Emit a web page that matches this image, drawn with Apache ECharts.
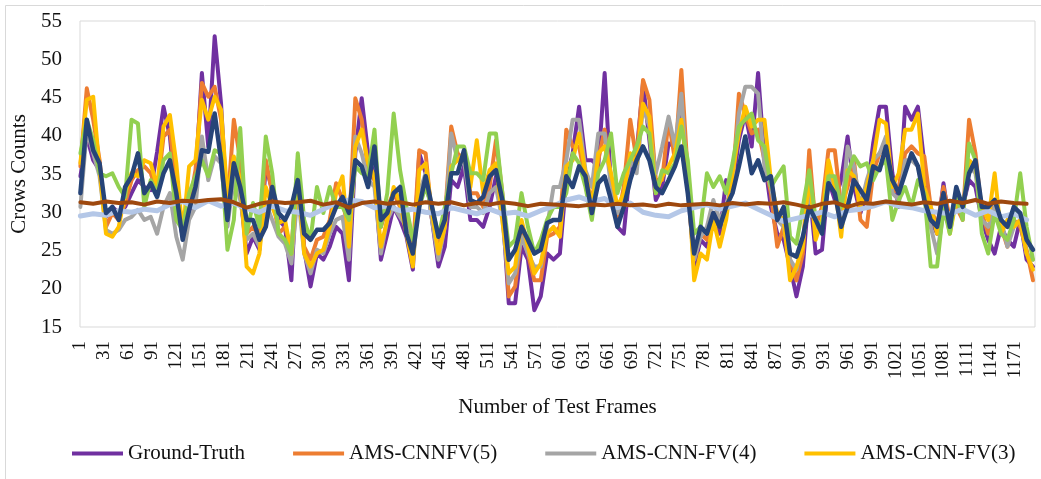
<!DOCTYPE html>
<html><head><meta charset="utf-8">
<script src="https://cdn.jsdelivr.net/npm/echarts@6/dist/echarts.min.js"></script>
<style>html,body{margin:0;padding:0;background:#fff;}#c{width:1041px;height:479px;}</style>
</head><body><div id="c"></div>
<script>
// ---- categories (frame numbers) ----
const FRAME_COUNT = 1195;
const categories = [];
for (let i = 1; i <= FRAME_COUNT; i++) categories.push(String(i));
const mainFrames = [];
for (let f = 1; f <= 1193; f += 8) mainFrames.push(f);
const flatFrames = [];
for (let f = 1; f <= 1185; f += 16) flatFrames.push(f);

const legendNames = ['Ground-Truth', 'AMS-CNNFV(5)', 'AMS-CNN-FV(4)', 'AMS-CNN-FV(3)'];

// ---- series values ----
const groundTruth = [34.7,39.9,36.8,35.5,29.4,30.7,29.9,30.7,32.5,34.2,33.3,32.9,37.9,43.8,39.9,31.2,26.8,29.9,34.2,48.2,38.6,53.0,44.2,29.4,34.2,32.5,24.6,26.8,25.1,36.0,32.9,29.0,28.1,21.1,36.8,25.1,20.3,24.6,
23.8,25.5,28.1,27.2,21.1,37.7,44.9,37.7,34.7,23.8,27.2,30.7,29.0,26.8,22.5,37.7,35.1,29.0,22.9,25.5,34.2,33.3,36.0,29.0,29.0,28.1,30.7,34.7,30.7,18.1,18.1,25.5,23.8,17.2,19.0,24.6,23.8,
24.6,34.2,37.7,43.8,36.8,36.8,36.0,48.2,33.3,28.1,27.2,36.0,37.7,46.9,39.4,31.6,33.3,39.0,38.6,43.8,33.3,22.9,26.4,25.5,29.0,27.2,34.2,33.3,39.4,42.9,38.6,48.2,36.8,30.7,27.2,26.4,22.9,19.0,
22.9,33.3,24.6,25.1,34.2,31.6,34.2,39.9,33.3,29.9,32.5,39.0,43.8,43.8,35.1,30.7,43.8,42.1,43.8,36.4,29.0,27.2,33.8,28.1,31.6,30.7,34.2,33.3,29.0,26.4,24.6,28.1,26.4,25.5,29.0,23.8,22.9];

const cnnfv5 = [36.0,46.2,42.1,36.8,28.1,29.9,29.0,31.2,34.2,35.5,36.0,35.1,32.5,39.9,40.8,33.3,28.1,30.7,35.5,46.9,45.1,46.4,42.1,30.7,42.1,36.8,27.2,28.1,26.8,36.8,32.5,27.2,28.1,25.1,36.0,25.5,23.8,26.4,
26.8,29.0,33.8,31.6,27.2,44.9,42.1,35.5,34.2,28.1,30.7,32.5,30.7,29.0,24.6,38.1,37.7,29.0,25.5,29.0,41.2,37.7,36.8,32.5,32.5,30.7,33.3,39.4,32.5,19.0,20.3,27.2,24.6,21.1,21.1,26.8,27.2,
28.1,40.8,38.6,38.6,34.2,31.6,36.8,40.8,34.2,29.0,33.3,42.1,36.8,47.3,44.7,34.2,34.2,42.1,36.8,48.6,35.1,23.8,27.2,26.4,29.9,28.1,30.7,33.3,45.5,42.9,40.3,40.8,36.8,32.5,25.5,28.1,23.8,21.1,
24.6,38.1,28.1,30.7,38.1,38.1,30.7,33.3,36.8,29.0,28.1,35.1,37.7,38.6,32.5,33.3,37.7,38.6,37.7,37.3,30.7,28.1,33.3,29.0,30.7,29.0,42.1,37.7,29.9,27.2,31.6,28.1,25.5,29.0,28.1,25.1,21.1];

const cnnfv4 = [30.7,40.8,37.7,34.7,27.7,27.2,27.7,29.0,29.4,30.3,29.0,29.4,27.2,30.7,32.5,26.8,23.8,29.0,30.7,39.9,34.2,37.3,36.4,28.1,34.7,31.6,26.4,27.2,25.5,31.2,29.0,26.8,25.9,23.3,32.5,24.6,22.0,25.1,
24.6,27.2,29.0,29.4,23.8,39.9,37.7,34.2,33.3,24.6,29.0,30.7,29.4,28.1,23.3,32.5,35.1,29.0,23.8,28.1,40.3,36.8,36.8,30.7,30.7,29.9,32.5,33.3,29.0,20.7,22.0,26.8,24.6,22.9,22.9,28.1,33.3,
33.3,36.8,42.1,42.1,35.5,33.3,40.3,40.3,33.3,29.9,31.6,36.8,35.1,43.8,41.2,35.1,38.6,42.5,38.6,45.5,33.3,23.8,26.8,28.1,31.6,29.0,30.7,34.2,42.9,46.4,46.4,45.5,36.0,33.3,29.0,28.1,23.8,22.5,
26.4,32.5,28.1,28.1,35.1,33.3,29.0,38.6,36.0,30.7,34.2,36.8,37.7,39.9,32.5,31.6,36.8,36.8,36.0,32.5,28.1,24.6,29.9,28.1,31.6,29.9,36.0,35.1,29.0,28.1,30.7,29.0,25.5,28.1,29.0,24.6,23.8];

const cnnfv3 = [36.4,44.7,45.1,35.5,27.2,26.8,28.1,32.5,35.1,34.7,36.8,36.4,33.3,41.2,42.7,36.4,27.2,36.0,36.8,44.7,42.1,45.1,43.4,32.0,37.3,34.2,22.9,22.0,24.6,33.3,30.7,28.6,29.0,24.6,35.1,24.6,22.9,24.6,
25.1,28.1,32.5,34.7,25.5,38.6,40.8,36.4,34.7,25.5,29.0,33.3,31.2,27.2,22.9,35.5,36.4,29.9,24.6,28.1,36.0,36.8,37.7,33.3,39.4,32.5,35.5,36.4,29.0,22.0,22.9,29.0,25.5,22.0,23.3,27.2,28.1,
26.8,36.0,36.8,40.3,35.1,30.7,37.7,38.6,35.1,30.7,32.5,37.7,36.4,44.2,42.5,32.5,34.7,36.0,37.7,42.1,35.1,21.1,24.6,23.8,29.0,25.5,29.0,35.1,40.3,43.8,41.2,42.1,42.1,34.2,29.9,29.0,21.1,22.9,
25.5,35.1,26.4,29.0,36.8,33.3,26.8,35.5,34.7,30.7,33.3,36.8,42.1,41.6,33.3,35.1,40.8,40.8,42.9,33.3,30.7,27.2,31.6,27.2,31.6,29.9,36.8,36.0,30.7,29.0,35.1,27.2,29.0,28.1,29.0,24.6,22.5];

const greenSeries = [37.7,42.1,39.4,35.1,34.7,35.1,33.3,32.0,42.1,41.6,30.7,34.2,32.5,36.8,37.7,29.0,27.7,32.5,34.7,36.8,34.7,38.1,37.7,25.1,29.0,41.0,27.2,31.2,28.1,39.9,35.1,27.2,26.4,24.6,37.7,29.0,26.4,33.3,
29.9,33.3,30.7,30.7,29.0,36.0,35.1,34.7,40.8,28.1,32.5,42.9,35.5,30.7,26.4,30.7,33.3,30.7,26.8,30.7,35.1,38.6,38.6,35.1,35.1,34.2,40.3,40.3,32.5,25.5,26.4,32.5,28.1,24.6,26.4,29.0,30.7,
30.7,32.5,37.7,36.4,33.3,29.0,35.1,36.8,40.3,32.5,35.1,36.8,38.6,41.2,40.3,32.5,35.5,35.1,36.4,41.2,36.8,27.2,28.1,35.1,33.3,34.7,32.5,36.4,41.2,42.1,42.9,39.4,38.6,33.3,34.7,36.0,26.8,25.9,
30.7,35.5,29.0,28.1,34.7,34.7,30.7,35.1,37.3,36.0,36.4,34.2,36.0,36.8,29.0,31.6,33.3,30.7,34.2,32.5,22.9,22.9,30.7,27.2,32.5,29.0,39.0,36.8,27.2,24.6,29.9,27.2,26.4,29.0,35.1,28.1,23.8];

const darkBlueSeries = [32.5,42.1,38.1,36.4,29.9,30.7,29.0,33.3,34.7,37.7,32.5,33.8,32.0,35.1,36.8,32.5,26.4,30.3,33.3,38.1,37.9,42.9,36.8,29.0,36.4,33.3,29.0,29.0,26.4,28.1,33.3,29.9,29.0,30.7,34.2,27.2,26.4,27.7,
27.7,28.6,30.7,32.0,29.9,36.8,36.0,33.3,38.6,29.0,29.9,32.5,33.3,27.2,24.6,30.7,34.7,30.7,26.8,29.0,35.1,35.1,38.1,31.6,31.2,32.0,34.7,35.5,31.6,23.8,25.1,28.1,26.4,24.6,25.1,28.6,29.0,
29.0,34.7,33.3,36.0,34.7,29.9,33.8,34.7,31.6,28.1,30.7,34.2,36.8,38.6,36.8,33.3,32.5,34.2,36.0,38.6,32.5,24.6,28.1,27.2,29.9,28.1,30.7,32.5,36.0,39.9,35.1,36.8,34.2,34.7,29.0,30.7,24.6,24.2,
26.8,30.7,29.0,27.2,33.8,32.5,28.1,30.7,34.2,32.9,31.6,36.0,35.5,38.6,34.2,32.5,35.1,37.7,36.0,31.6,29.0,28.1,32.5,28.1,33.3,30.7,35.1,36.8,30.7,30.7,31.6,29.0,28.1,30.7,29.9,26.4,25.1];

const lightBlueSeries = [29.5,29.8,29.6,30.2,30.0,30.4,30.2,31.0,31.4,30.6,31.5,30.8,31.2,30.5,30.0,30.8,30.2,30.0,29.6,30.4,
31.2,31.6,31.4,30.6,30.8,30.2,30.4,30.0,29.8,30.6,30.2,29.8,30.4,29.8,30.0,29.5,30.2,30.8,31.6,32.0,
31.4,31.8,30.6,31.2,30.0,29.6,29.4,30.2,30.6,31.0,30.4,30.8,31.2,30.4,29.6,28.8,29.2,29.6,30.0,29.4,
30.2,30.4,30.8,31.4,30.8,30.6,30.2,30.0,29.8,30.4,29.6,30.2,29.4,29.8,29.0];

const brownSeries = [31.3,31.1,31.4,31.2,31.3,31.0,31.4,31.2,31.5,31.4,31.6,31.7,31.3,30.6,31.1,31.4,31.2,31.3,31.5,31.0,
31.3,30.6,31.2,31.4,31.1,31.3,31.0,31.3,31.1,31.3,30.9,31.2,31.0,31.3,31.1,30.8,31.1,31.0,30.9,30.8,
31.0,30.9,31.1,30.9,31.0,30.8,31.1,30.9,31.0,31.1,30.9,31.2,31.0,31.2,31.1,31.3,31.0,30.6,31.1,31.3,
30.7,31.2,31.1,31.4,31.2,31.0,31.3,31.1,31.5,31.2,31.6,31.1,31.4,31.2,31.1];

const yTicks = {min: 15, max: 55, step: 5};

function pairs(frames, vals) {
  const out = [];
  const n = Math.min(frames.length, vals.length);
  for (let i = 0; i < n; i++) out.push([frames[i] - 1, vals[i]]);
  return out;
}
function line(name, frames, vals, color, width) {
  return {
    name: name, type: 'line', data: pairs(frames, vals),
    symbol: 'none', showSymbol: false, smooth: false,
    lineStyle: {color: color, width: width, cap: 'round', join: 'round'},
    itemStyle: {color: color},
    emphasis: {disabled: true}, animation: false
  };
}
const FONT = '"Liberation Serif", "Times New Roman", serif';
const chart = echarts.init(document.getElementById('c'), null, {renderer: 'canvas'});
chart.setOption({
  backgroundColor: '#fff',
  animation: false,
  graphic: [{type: 'rect', silent: true, z: -10,
    shape: {x: 5.5, y: 5.5, width: 1060, height: 500},
    style: {fill: null, stroke: '#d9d9d9', lineWidth: 1}}],
  grid: {left: 80, right: 6, top: 21, bottom: 152, show: true, borderColor: '#d9d9d9', borderWidth: 1},
  legend: {
    data: legendNames, left: 67, top: 438, icon: 'rect', itemWidth: 51, itemHeight: 4, itemGap: 48,
    textStyle: {fontFamily: FONT, fontSize: 21, color: '#111'}
  },
  xAxis: {
    type: 'category', data: categories, boundaryGap: true,
    axisLine: {show: false}, axisTick: {show: false}, splitLine: {show: false},
    axisLabel: {interval: 29, rotate: 90, fontFamily: FONT, fontSize: 19, color: '#111', margin: 14},
    name: 'Number of Test Frames', nameLocation: 'middle', nameGap: 70,
    nameTextStyle: {fontFamily: FONT, fontSize: 21, color: '#111'}
  },
  yAxis: {
    type: 'value', min: yTicks.min, max: yTicks.max, interval: yTicks.step,
    axisLine: {show: false}, axisTick: {show: false}, splitLine: {show: false},
    axisLabel: {fontFamily: FONT, fontSize: 21, color: '#111', margin: 18},
    name: 'Crows Counts', nameLocation: 'middle', nameGap: 44,
    nameTextStyle: {fontFamily: FONT, fontSize: 21, color: '#111'}
  },
  series: [
    line('Ground-Truth', mainFrames, groundTruth, '#7030A0', 4),
    line('AMS-CNNFV(5)', mainFrames, cnnfv5, '#ED7D31', 4),
    line('AMS-CNN-FV(4)', mainFrames, cnnfv4, '#A5A5A5', 4),
    line('AMS-CNN-FV(3)', mainFrames, cnnfv3, '#FFC000', 4),
    line('Series 5', mainFrames, greenSeries, '#92D050', 4),
    line('Series 6', flatFrames, lightBlueSeries, '#B4C7E7', 5),
    line('Series 7', mainFrames, darkBlueSeries, '#264478', 4.5),
    line('Series 8', flatFrames, brownSeries, '#9E480E', 4)
  ]
});
</script>
</body></html>
